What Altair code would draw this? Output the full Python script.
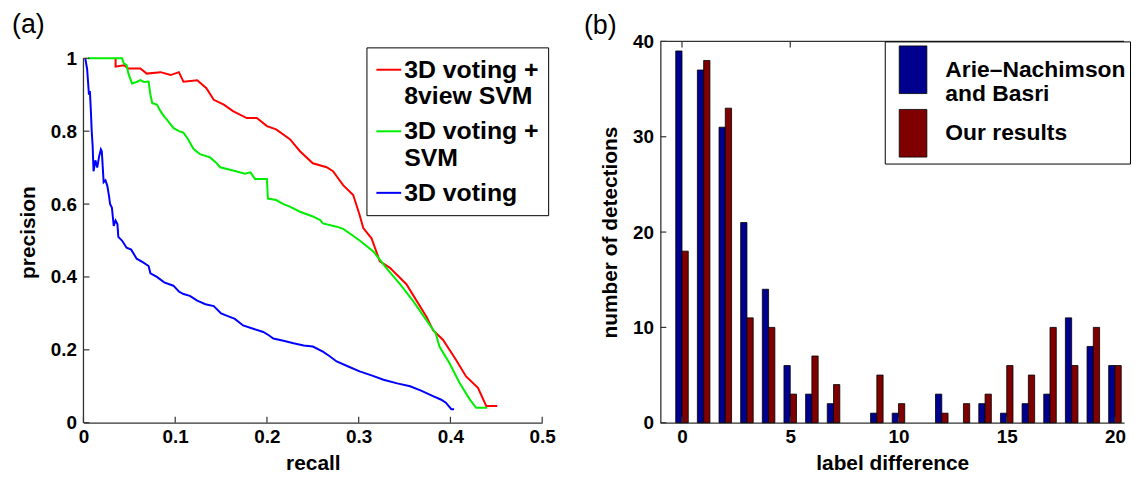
import altair as alt
import pandas as pd

FONT = "Liberation Sans"

# ---------------- panel (a): precision / recall curves ----------------
red_recall = [0.035, 0.035, 0.044, 0.049, 0.062, 0.069, 0.084, 0.095, 0.104, 0.109, 0.124, 0.134,
              0.142, 0.153, 0.163, 0.178, 0.189, 0.200, 0.210, 0.225, 0.236, 0.250, 0.265, 0.272,
              0.283, 0.294, 0.301, 0.305, 0.314, 0.323, 0.334, 0.352, 0.363, 0.374, 0.381, 0.392,
              0.406, 0.417, 0.430, 0.439, 0.451]
red_precision = [1.0, 0.977, 0.981, 0.972, 0.972, 0.958, 0.962, 0.954, 0.962, 0.936, 0.940, 0.918,
                 0.886, 0.873, 0.855, 0.836, 0.836, 0.814, 0.805, 0.778, 0.745, 0.712, 0.701, 0.690,
                 0.652, 0.625, 0.570, 0.534, 0.506, 0.443, 0.425, 0.380, 0.335, 0.290, 0.254, 0.227,
                 0.173, 0.127, 0.096, 0.046, 0.046]

green_recall = [0.005, 0.042, 0.044, 0.047, 0.049, 0.053, 0.058, 0.062, 0.066, 0.071, 0.073, 0.075,
                0.080, 0.084, 0.088, 0.091, 0.098, 0.104, 0.109, 0.114, 0.120, 0.127, 0.138, 0.144,
                0.149, 0.163, 0.176, 0.182, 0.187, 0.200, 0.201, 0.210, 0.218, 0.225, 0.236, 0.250,
                0.258, 0.261, 0.276, 0.283, 0.290, 0.301, 0.316, 0.330, 0.345, 0.359, 0.374, 0.384,
                0.388, 0.399, 0.410, 0.421, 0.428, 0.440]
green_precision = [1.0, 1.0, 0.986, 0.981, 0.958, 0.931, 0.935, 0.940, 0.935, 0.936, 0.900, 0.877,
                   0.873, 0.855, 0.840, 0.832, 0.809, 0.800, 0.796, 0.778, 0.751, 0.737, 0.728, 0.715,
                   0.701, 0.692, 0.683, 0.687, 0.669, 0.669, 0.615, 0.611, 0.600, 0.593, 0.579, 0.566,
                   0.556, 0.547, 0.538, 0.532, 0.520, 0.500, 0.470, 0.425, 0.380, 0.335, 0.281, 0.245,
                   0.209, 0.163, 0.109, 0.064, 0.041, 0.041]

blue_recall = [0.002, 0.004, 0.006, 0.007, 0.008, 0.009, 0.010, 0.011, 0.013, 0.015, 0.017, 0.019,
               0.020, 0.022, 0.024, 0.026, 0.028, 0.029, 0.031, 0.033, 0.035, 0.037, 0.038, 0.042,
               0.047, 0.052, 0.058, 0.065, 0.071, 0.073, 0.080, 0.088, 0.098, 0.104, 0.109, 0.116,
               0.124, 0.133, 0.142, 0.150, 0.156, 0.165, 0.174, 0.185, 0.196, 0.202, 0.207, 0.218,
               0.229, 0.240, 0.250, 0.261, 0.268, 0.276, 0.288, 0.301, 0.314, 0.327, 0.342, 0.356,
               0.368, 0.381, 0.390, 0.395, 0.401, 0.404]
blue_precision = [1.0, 0.97, 0.90, 0.91, 0.86, 0.80, 0.76, 0.69, 0.72, 0.70, 0.73, 0.75,
                  0.745, 0.66, 0.665, 0.65, 0.62, 0.60, 0.59, 0.54, 0.555, 0.545, 0.51, 0.50,
                  0.48, 0.475, 0.45, 0.44, 0.43, 0.41, 0.40, 0.385, 0.376, 0.36, 0.353, 0.348,
                  0.335, 0.325, 0.32, 0.30, 0.294, 0.285, 0.267, 0.258, 0.249, 0.24, 0.231, 0.225,
                  0.218, 0.212, 0.209, 0.195, 0.183, 0.168, 0.155, 0.141, 0.13, 0.118, 0.108, 0.100,
                  0.088, 0.073, 0.063, 0.055, 0.037, 0.037]

series_names = ["3D voting +|8view SVM", "3D voting +|SVM", "3D voting"]
series_colors = ["#ff0000", "#00ee00", "#0000ff"]

x_ticks_a = [0, 0.1, 0.2, 0.3, 0.4, 0.5]
y_ticks_a = [0, 0.2, 0.4, 0.6, 0.8, 1]

# ---------------- panel (b): histogram of label differences ----------------
label_diff = list(range(21))
arie_counts = [39, 37, 31, 21, 14, 6, 3, 2, 0, 1, 1, 0, 3, 0, 2, 1, 2, 3, 11, 8, 6]
our_counts = [18, 38, 33, 11, 10, 3, 7, 4, 0, 5, 2, 0, 1, 2, 3, 6, 5, 10, 6, 10, 6]
bar_names = ["Arie\u2013Nachimson|and Basri", "Our results"]
bar_colors = ["#00008f", "#7f0000"]

x_ticks_b = [0, 5, 10, 15, 20]
y_ticks_b = [0, 10, 20, 30, 40]

# ---------------- tables ----------------
rows = []
for name, rs, ps in zip(series_names,
                        [red_recall, green_recall, blue_recall],
                        [red_precision, green_precision, blue_precision]):
    for i, (r, p) in enumerate(zip(rs, ps)):
        rows.append({"series": name, "recall": r, "precision": p, "idx": i})
pr_df = pd.DataFrame(rows)

bar_rows = []
for name, counts in zip(bar_names, [arie_counts, our_counts]):
    for d, c in zip(label_diff, counts):
        bar_rows.append({"series": name, "diff": d, "count": c})
bar_df = pd.DataFrame(bar_rows)

WA, HA = 462, 384
WB, HB = 467, 384
AX = "#333333"
XB_MAX = 20.42

xa_scale = alt.Scale(domain=[0, 0.5], nice=False, zero=False)
ya_scale = alt.Scale(domain=[0, 384 / 367], nice=False, zero=False)
xb_scale = alt.Scale(domain=[-1, XB_MAX], nice=False, zero=False)
yb_scale = alt.Scale(domain=[0, 40], nice=False, zero=False)

xa_axis = alt.Axis(values=x_ticks_a, format="~g", title="recall", titlePadding=6,
                   labelPadding=5, labelFlush=False, labelOverlap=False)
ya_axis = alt.Axis(values=y_ticks_a, format="~g", title="precision", titlePadding=12,
                   labelPadding=7, labelOverlap=False, domain=False)
xb_axis = alt.Axis(values=x_ticks_b, format="d", title="label difference", titlePadding=6,
                   labelPadding=5, labelFlush=False, labelOverlap=False)
yb_axis = alt.Axis(values=y_ticks_b, format="d", title="number of detections",
                   titlePadding=12, labelPadding=7, labelOverlap=False)

# ---- panel (a) ----
lines = alt.Chart(pr_df).mark_line(strokeWidth=2).encode(
    x=alt.X("recall:Q", scale=xa_scale, axis=xa_axis),
    y=alt.Y("precision:Q", scale=ya_scale, axis=ya_axis),
    color=alt.Color("series:N", scale=alt.Scale(domain=series_names, range=series_colors),
                    legend=alt.Legend(title=None, orient="none", legendX=285, legendY=6,
                                      direction="vertical",
                                      labelExpr="split(datum.label, '|')",
                                      symbolType="stroke", symbolSize=625, symbolStrokeWidth=2,
                                      labelFont=FONT, labelFontSize=25, labelFontWeight="bold",
                                      labelColor="black", labelLimit=400, labelOffset=2,
                                      strokeColor="black", fillColor="white", padding=9,
                                      rowPadding=8, cornerRadius=0)),
    order="idx:Q",
)

# y axis line of (a) only spans precision 0..1
ya_line = alt.Chart(pd.DataFrame({"lo": [0], "hi": [1]})).mark_rule(color=AX, strokeWidth=1.3).encode(
    y=alt.Y("lo:Q", scale=ya_scale, axis=ya_axis), y2="hi:Q", x=alt.value(0))
xa_t = alt.Chart(pd.DataFrame({"v": x_ticks_a})).mark_rule(color=AX, strokeWidth=1.2).encode(
    x=alt.X("v:Q", scale=xa_scale, axis=xa_axis), y=alt.value(HA), y2=alt.value(HA - 6))
ya_t = alt.Chart(pd.DataFrame({"v": y_ticks_a})).mark_rule(color=AX, strokeWidth=1.2).encode(
    y=alt.Y("v:Q", scale=ya_scale, axis=ya_axis), x=alt.value(0), x2=alt.value(6))

panel_a = alt.layer(lines, ya_line, xa_t, ya_t).properties(
    width=WA, height=HA,
    view=alt.ViewBackground(strokeOpacity=0),
    title=alt.TitleParams(text="(a)", anchor="start", frame="group", dx=-72, offset=2,
                          fontSize=27, fontWeight="normal", font=FONT, color="black"),
)

# ---- panel (b) ----
bars = alt.Chart(bar_df).transform_filter("datum.count > 0").transform_calculate(
    x0="datum.diff + (datum.series == 'Our results' ? 0 : -0.29)",
    x1="datum.diff + (datum.series == 'Our results' ? 0.29 : 0)",
).mark_bar(stroke="black", strokeWidth=0.8).encode(
    x=alt.X("x0:Q", scale=xb_scale, axis=xb_axis),
    x2="x1:Q",
    y=alt.Y("count:Q", scale=yb_scale, axis=yb_axis),
    y2=alt.datum(0),
    color=alt.Color("series:N", scale=alt.Scale(domain=bar_names, range=bar_colors),
                    legend=alt.Legend(title=None, orient="none", legendX=226, legendY=0,
                                      direction="vertical",
                                      labelExpr="split(datum.label, '|')",
                                      symbolType="M-0.58,-1H0.58V1H-0.58Z", symbolSize=2304,
                                      symbolStrokeColor="black", symbolStrokeWidth=0.8,
                                      labelFont=FONT, labelFontSize=23, labelFontWeight="bold",
                                      labelColor="black", labelLimit=400, labelOffset=8,
                                      strokeColor="black", fillColor="white", padding=4,
                                      rowPadding=0, cornerRadius=0)),
)

xb_bot = alt.Chart(pd.DataFrame({"v": x_ticks_b})).mark_rule(color=AX, strokeWidth=1.2).encode(
    x=alt.X("v:Q", scale=xb_scale, axis=xb_axis), y=alt.value(HB), y2=alt.value(HB - 6))
xb_top = alt.Chart(pd.DataFrame({"v": x_ticks_b})).mark_rule(color=AX, strokeWidth=1.2).encode(
    x=alt.X("v:Q", scale=xb_scale, axis=xb_axis), y=alt.value(0), y2=alt.value(6))
yb_t = alt.Chart(pd.DataFrame({"v": y_ticks_b})).mark_rule(color=AX, strokeWidth=1.2).encode(
    y=alt.Y("v:Q", scale=yb_scale, axis=yb_axis), x=alt.value(0), x2=alt.value(6))
top_frame = alt.Chart(pd.DataFrame({"lo": [-1], "hi": [XB_MAX]})).mark_rule(color=AX, strokeWidth=1.3).encode(
    x=alt.X("lo:Q", scale=xb_scale, axis=xb_axis), x2="hi:Q", y=alt.value(0))

panel_b = alt.layer(bars, xb_bot, xb_top, yb_t, top_frame).properties(
    width=WB, height=HB,
    view=alt.ViewBackground(strokeOpacity=0),
    title=alt.TitleParams(text="(b)", anchor="start", frame="group", dx=-77, offset=-8,
                          fontSize=27, fontWeight="normal", font=FONT, color="black"),
)

chart = alt.hconcat(panel_a, panel_b, spacing=28).resolve_scale(
    color="independent", x="independent", y="independent"
).properties(
    padding={"left": 4, "top": 2, "right": 0, "bottom": 0},
    background="white",
).configure_axis(
    labelFont=FONT, labelFontSize=19, labelFontWeight="bold", labelColor="black",
    titleFont=FONT, titleFontSize=21, titleFontWeight="bold", titleColor="black",
    domainColor=AX, domainWidth=1.3, ticks=False, grid=False,
)

chart.save("out.html", embed_options={"renderer": "svg", "actions": False})
